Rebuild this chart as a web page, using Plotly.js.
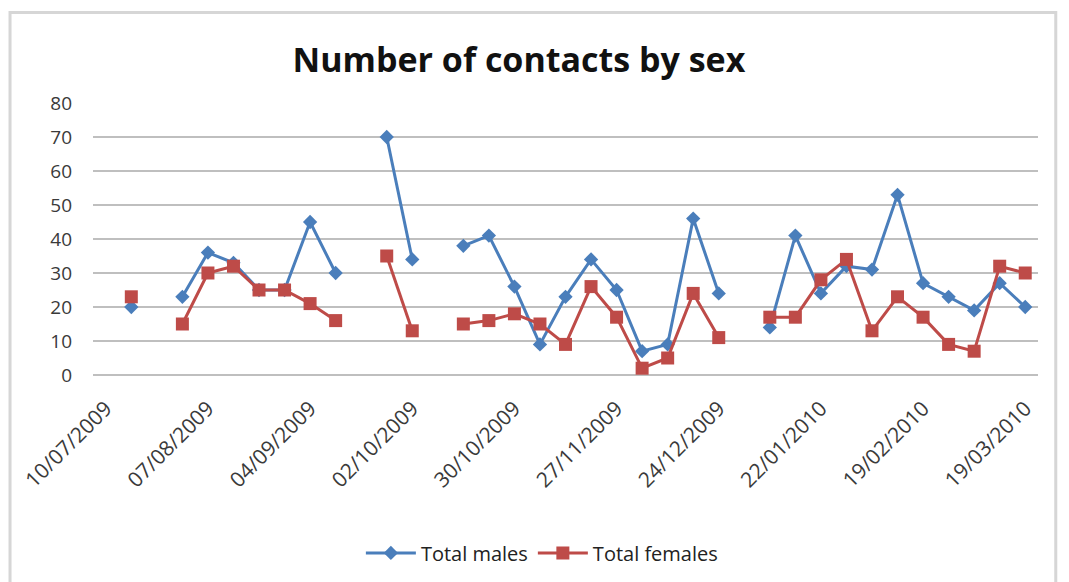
<!DOCTYPE html>
<html>
<head>
<meta charset="utf-8">
<script src="https://cdn.plot.ly/plotly-3.0.1.min.js"></script>
<style>html,body{margin:0;padding:0;background:#fff;}#chart{width:1069px;height:582px;}</style>
</head>
<body>
<div id="chart"></div>
<script>
const categories = [
  "10/07/2009","17/07/2009","24/07/2009","31/07/2009","07/08/2009","14/08/2009","21/08/2009","28/08/2009",
  "04/09/2009","11/09/2009","18/09/2009","25/09/2009","02/10/2009","09/10/2009","16/10/2009","23/10/2009",
  "30/10/2009","06/11/2009","13/11/2009","20/11/2009","27/11/2009","04/12/2009","11/12/2009","18/12/2009",
  "24/12/2009","31/12/2009","08/01/2010","15/01/2010","22/01/2010","29/01/2010","05/02/2010","12/02/2010",
  "19/02/2010","26/02/2010","05/03/2010","12/03/2010","19/03/2010"
];
const tickLabels = ["10/07/2009","07/08/2009","04/09/2009","02/10/2009","30/10/2009","27/11/2009","24/12/2009","22/01/2010","19/02/2010","19/03/2010"];
const totalMales = [
  null,20,null,23,36,33,25,25,
  45,30,null,70,34,null,38,41,
  26,9,23,34,25,7,9,46,
  24,null,14,41,24,32,31,53,
  27,23,19,27,20
];
const totalFemales = [
  null,23,null,15,30,32,25,25,
  21,16,null,35,13,null,15,16,
  18,15,9,26,17,2,5,24,
  11,null,17,17,28,34,13,23,
  17,9,7,32,30
];

const font = "'Open Sans', sans-serif";
const traces = [
  {x: categories, y: totalMales, name: "Total males", type: "scatter", mode: "lines+markers",
   line: {color: "#4A7EBB", width: 3}, marker: {symbol: "diamond", size: 11, color: "#4A7EBB"}},
  {x: categories, y: totalFemales, name: "Total females", type: "scatter", mode: "lines+markers",
   line: {color: "#BE4B48", width: 3}, marker: {symbol: "square", size: 13, color: "#BE4B48"}}
];
const layout = {
  width: 1069, height: 582,
  margin: {l: 93, r: 31, t: 103, b: 206},
  paper_bgcolor: "#ffffff", plot_bgcolor: "#ffffff",
  font: {family: font, color: "#333"},
  title: {text: "<b>Number of contacts by sex</b>", x: 0.4855, xanchor: "center", y: 0.897, yanchor: "middle",
          font: {family: font, size: 34, color: "#111"}},
  xaxis: {type: "category", range: [-0.5, 36.5], tickmode: "array",
          tickvals: tickLabels, ticktext: tickLabels, tickangle: -45,
          showgrid: false, zeroline: false, showline: false, ticks: "",
          ticklabelstandoff: 16,
          tickfont: {family: font, size: 21, color: "#3a3a3a"}},
  yaxis: {range: [0, 80], dtick: 10, showgrid: true, gridcolor: "#BFBFBF", gridwidth: 2,
          zeroline: true, zerolinecolor: "#BFBFBF", zerolinewidth: 2, showline: false, ticks: "",
          ticklabelstandoff: 20,
          tickfont: {family: font, size: 19, color: "#3a3a3a"}},
  showlegend: true,
  legend: {orientation: "h", x: 0.475, xanchor: "center", y: -0.648, yanchor: "middle",
           font: {family: font, size: 20, color: "#222"}, itemwidth: 50, tracegroupgap: 0},
  shapes: [
    {type: "rect", xref: "paper", yref: "paper", x0: -0.0878, x1: 1.0188, y0: -0.80, y1: 1.333,
     line: {color: "#D6D6D6", width: 3}, fillcolor: "rgba(0,0,0,0)", layer: "below"}
  ]
};
Plotly.newPlot("chart", traces, layout, {displayModeBar: false, staticPlot: true});
</script>
</body>
</html>
